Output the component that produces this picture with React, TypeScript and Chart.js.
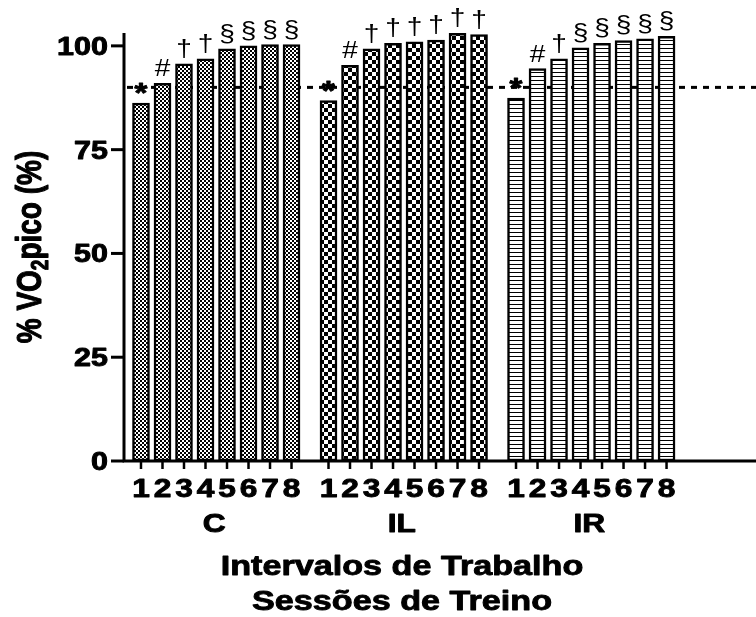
import React, { useEffect, useRef } from 'react';
import { Chart, registerables } from 'chart.js';

Chart.register(...registerables);

// ---- data ----
const SESSIONS = ['1', '2', '3', '4', '5', '6', '7', '8'];
const GROUPS = ['C', 'IL', 'IR'];
const C_VALUES = [86.2, 91.0, 95.7, 96.9, 99.3, 100.0, 100.3, 100.3];
const IL_VALUES = [86.8, 95.3, 99.3, 100.6, 101.0, 101.4, 103.0, 102.7];
const IR_VALUES = [87.4, 94.5, 96.9, 99.5, 100.6, 101.3, 101.7, 102.3];
const C_MARKS = ['*', '#', '†', '†', '§', '§', '§', '§'];
const IL_MARKS = ['*', '#', '†', '†', '†', '†', '†', '†'];
const IR_MARKS = ['*', '#', '†', '§', '§', '§', '§', '§'];
const Y_TICKS = [0, 25, 50, 75, 100];
const REFERENCE = 90;
const Y_TITLE_A = '% VO';
const Y_TITLE_SUB = '2';
const Y_TITLE_B = 'pico (%)';
const X_TITLE_1 = 'Intervalos de Trabalho';
const X_TITLE_2 = 'Sessões de Treino';

const GROUP_VALUES = [C_VALUES, IL_VALUES, IR_VALUES];
const GROUP_MARKS = [C_MARKS, IL_MARKS, IR_MARKS];

// ---- style ----
const FONT = '"Liberation Sans", Arial, Helvetica, sans-serif';
const SX = 1.22;
const GROUP_STRIDE = 8.72;

function makePattern(ctx: CanvasRenderingContext2D, kind: number): CanvasPattern | string {
  const c = document.createElement('canvas');
  const g = c.getContext('2d')!;
  if (kind === 0) {
    c.width = 4; c.height = 4;
    g.fillStyle = '#fff'; g.fillRect(0, 0, 4, 4);
    g.fillStyle = '#000'; g.fillRect(0, 0, 2, 2); g.fillRect(2, 2, 2, 2);
  } else if (kind === 1) {
    c.width = 8; c.height = 8;
    g.fillStyle = '#fff'; g.fillRect(0, 0, 8, 8);
    g.fillStyle = '#000'; g.fillRect(0, 0, 4, 4); g.fillRect(4, 4, 4, 4);
  } else {
    c.width = 4; c.height = 4;
    g.fillStyle = '#fff'; g.fillRect(0, 0, 4, 4);
    g.fillStyle = '#000'; g.fillRect(0, 0, 4, 1);
  }
  return ctx.createPattern(c, 'repeat') || '#888';
}

function stretchText(
  ctx: CanvasRenderingContext2D, text: string, x: number, y: number,
  align: CanvasTextAlign, font: string, heavy = true
) {
  ctx.save();
  ctx.translate(x, y);
  ctx.scale(SX, 1);
  ctx.font = font;
  ctx.textAlign = align;
  ctx.textBaseline = 'alphabetic';
  ctx.fillStyle = '#000';
  ctx.fillText(text, 0, 0);
  if (heavy) {
    ctx.strokeStyle = '#000';
    ctx.lineWidth = 0.9;
    ctx.lineJoin = 'round';
    ctx.strokeText(text, 0, 0);
  }
  ctx.restore();
}

const customPlugin = {
  id: 'customDraw',
  beforeDatasetsDraw(chart: any) {
    const { ctx, chartArea, scales } = chart;
    const yy = scales.y.getPixelForValue(REFERENCE);
    ctx.save();
    ctx.strokeStyle = '#000';
    ctx.lineWidth = 3;
    ctx.setLineDash([6, 6]);
    ctx.beginPath();
    ctx.moveTo(chartArea.left + 3, yy);
    ctx.lineTo(chartArea.right, yy);
    ctx.stroke();
    ctx.restore();
  },
  afterDatasetsDraw(chart: any) {
    const { ctx, chartArea, scales } = chart;
    const { left, right, top, bottom } = chartArea;
    ctx.save();
    ctx.strokeStyle = '#000';
    ctx.lineCap = 'butt';
    // axes
    ctx.lineWidth = 3;
    ctx.beginPath();
    ctx.moveTo(left, top);
    ctx.lineTo(left, bottom + 1.5);
    ctx.moveTo(left - 1.5, bottom);
    ctx.lineTo(right, bottom);
    ctx.stroke();
    // y ticks
    Y_TICKS.forEach((v) => {
      const py = scales.y.getPixelForValue(v);
      ctx.lineWidth = 3;
      ctx.beginPath();
      ctx.moveTo(left - 13, py);
      ctx.lineTo(left, py);
      ctx.stroke();
      stretchText(ctx, String(v), left - 16, py + 9, 'right', `bold 25px ${FONT}`);
    });
    // x ticks, labels, marks
    GROUPS.forEach((gName, g) => {
      const meta = chart.getDatasetMeta(g);
      const els = meta.data;
      els.forEach((el: any, s: number) => {
        ctx.lineWidth = 2.5;
        ctx.strokeStyle = '#000';
        ctx.beginPath();
        ctx.moveTo(el.x, bottom);
        ctx.lineTo(el.x, bottom + 8);
        ctx.stroke();
        stretchText(ctx, SESSIONS[s], el.x, 497, 'center', `bold 26px ${FONT}`);
        const m = GROUP_MARKS[g][s];
        if (m === '*') {
          stretchText(ctx, m, el.x, el.y - 1, 'center', `bold 27px ${FONT}`);
        } else {
          stretchText(ctx, m, el.x, el.y - 7, 'center', `23px ${FONT}`, false);
        }
      });
      const cx = (els[0].x + els[els.length - 1].x) / 2 - 2;
      stretchText(ctx, gName, cx, 532, 'center', `bold 26px ${FONT}`);
    });
    // x titles
    stretchText(ctx, X_TITLE_1, 402, 575, 'center', `bold 28px ${FONT}`);
    stretchText(ctx, X_TITLE_2, 402, 610, 'center', `bold 28px ${FONT}`);
    // y title with subscript
    ctx.save();
    ctx.translate(28, 247);
    ctx.rotate(-Math.PI / 2);
    ctx.scale(1, 1.25);
    ctx.fillStyle = '#000';
    ctx.strokeStyle = '#000';
    ctx.lineWidth = 0.9;
    ctx.lineJoin = 'round';
    ctx.textAlign = 'left';
    ctx.textBaseline = 'alphabetic';
    const mainF = `bold 28px ${FONT}`;
    const subF = `bold 19px ${FONT}`;
    ctx.font = mainF;
    const w1 = ctx.measureText(Y_TITLE_A).width;
    const w3 = ctx.measureText(Y_TITLE_B).width;
    ctx.font = subF;
    const w2 = ctx.measureText(Y_TITLE_SUB).width;
    const start = -(w1 + w2 + w3) / 2;
    ctx.font = mainF;
    ctx.fillText(Y_TITLE_A, start, 10);
    ctx.strokeText(Y_TITLE_A, start, 10);
    ctx.font = subF;
    ctx.fillText(Y_TITLE_SUB, start + w1, 16);
    ctx.strokeText(Y_TITLE_SUB, start + w1, 16);
    ctx.font = mainF;
    ctx.fillText(Y_TITLE_B, start + w1 + w2, 10);
    ctx.strokeText(Y_TITLE_B, start + w1 + w2, 10);
    ctx.restore();
    ctx.restore();
  },
};

export default function App() {
  const ref = useRef<HTMLCanvasElement>(null);
  useEffect(() => {
    const canvas = ref.current!;
    const ctx = canvas.getContext('2d')!;
    const patterns = [makePattern(ctx, 0), makePattern(ctx, 1), makePattern(ctx, 2)];
    const chart = new Chart(ctx, {
      type: 'bar',
      data: {
        datasets: GROUP_VALUES.map((vals, g) => ({
          label: GROUPS[g],
          data: vals.map((v, s) => ({ x: g * GROUP_STRIDE + s, y: v })),
          backgroundColor: patterns[g] as any,
          borderColor: '#000',
          borderWidth: 2.5,
          borderSkipped: false,
          barThickness: 17,
          grouped: false,
          clip: false as any,
        })),
      },
      options: {
        animation: false,
        responsive: false,
        maintainAspectRatio: false,
        layout: { padding: { left: 124, right: 0, top: 33, bottom: 156 } },
        plugins: { legend: { display: false }, tooltip: { enabled: false } },
        scales: {
          x: { type: 'linear', display: false, min: -0.79, max: 28.6, offset: false },
          y: { type: 'linear', display: false, min: 0, max: 103.1 },
        },
      },
      plugins: [customPlugin],
    } as any);
    return () => chart.destroy();
  }, []);
  return (
    <div style={{ position: 'absolute', left: 0, top: 0, width: 756, height: 617, background: '#fff' }}>
      <canvas ref={ref} width={756} height={617} style={{ display: 'block', width: 756, height: 617 }} />
    </div>
  );
}
